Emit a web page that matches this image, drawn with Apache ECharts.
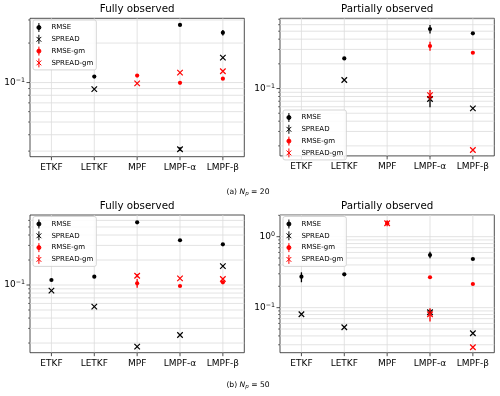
<!DOCTYPE html>
<html><head><meta charset="utf-8">
<script src="https://cdn.jsdelivr.net/npm/echarts@6/dist/echarts.min.js"></script>
<style>html,body{margin:0;padding:0;background:#fff}#c{width:500px;height:396px}</style>
</head><body><div id="c"></div>
<script>
const categories = ['ETKF', 'LETKF', 'MPF', 'LMPF-α', 'LMPF-β'];
const seriesNames = ['RMSE', 'SPREAD', 'RMSE-gm', 'SPREAD-gm'];

// (a) Np = 20, fully observed
const rmse20F      = [null, 0.111, null, 0.275, 0.240];
const spread20F    = [null, 0.089, null, 0.031, 0.155];
const rmseGm20F    = [null, null, 0.113, 0.0996, 0.107];
const spreadGm20F  = [null, null, 0.0986, 0.119, 0.122];
const errRmse20F     = [null, null, null, null, [0.228, 0.252]];
const errSpread20F   = [null, null, null, [0.0300, 0.0322], null];
const errRmseGm20F   = [null, null, null, null, null];
const errSpreadGm20F = [null, null, null, null, null];

// (a) Np = 20, partially observed
const rmse20P      = [null, 0.233, null, 0.532, 0.471];
const spread20P    = [null, 0.127, null, 0.0745, 0.0574];
const rmseGm20P    = [null, null, null, 0.330, 0.273];
const spreadGm20P  = [null, null, null, 0.0833, 0.0178];
const errRmse20P     = [null, null, null, [0.47, 0.595], null];
const errSpread20P   = [null, null, null, [0.059, 0.085], null];
const errRmseGm20P   = [null, null, null, [0.289, 0.372], null];
const errSpreadGm20P = [null, null, null, [0.0724, 0.0958], null];

// (b) Np = 50, fully observed
const rmse50F      = [0.1149, 0.1259, 0.569, 0.346, 0.309];
const spread50F    = [0.0854, 0.0548, 0.0181, 0.0250, 0.169];
const rmseGm50F    = [null, null, 0.1048, 0.0973, 0.1078];
const spreadGm50F  = [null, null, 0.1294, 0.1204, 0.118];
const errRmse50F     = [null, null, null, null, null];
const errSpread50F   = [null, null, null, null, null];
const errRmseGm50F   = [null, null, [0.0928, 0.118], null, [0.104, 0.112]];
const errSpreadGm50F = [null, null, [0.124, 0.136], null, null];

// (b) Np = 50, partially observed
const rmse50P      = [0.273, 0.295, null, 0.552, 0.485];
const spread50P    = [0.0807, 0.0530, null, 0.0861, 0.0436];
const rmseGm50P    = [null, null, 1.55, 0.268, 0.2155];
const spreadGm50P  = [null, null, 1.545, 0.0807, 0.0277];
const errRmse50P     = [[0.228, 0.315], null, null, [0.496, 0.615], null];
const errSpread50P   = [null, null, null, [0.079, 0.094], null];
const errRmseGm50P   = [null, null, null, null, null];
const errSpreadGm50P = [null, null, [1.40, 1.70], [0.0637, 0.0981], null];

const panelTitles = ['Fully observed', 'Partially observed', 'Fully observed', 'Partially observed'];
const captions = ['(a) {i|N}{sub|p} = 20', '(b) {i|N}{sub|p} = 50'];

const panels = [
  { grid: {left: 30, top: 18.3, width: 214.3, height: 138.4}, yRange: [0.0272, 0.309],
    vals: [rmse20F, spread20F, rmseGm20F, spreadGm20F], errs: [errRmse20F, errSpread20F, errRmseGm20F, errSpreadGm20F],
    legend: {left: 33, top: 20} },
  { grid: {left: 280, top: 18.3, width: 214.3, height: 137.6}, yRange: [0.0151, 0.718],
    vals: [rmse20P, spread20P, rmseGm20P, spreadGm20P], errs: [errRmse20P, errSpread20P, errRmseGm20P, errSpreadGm20P],
    legend: {left: 283, top: 110} },
  { grid: {left: 30, top: 215, width: 214.3, height: 137.7}, yRange: [0.0153, 0.697],
    vals: [rmse50F, spread50F, rmseGm50F, spreadGm50F], errs: [errRmse50F, errSpread50F, errRmseGm50F, errSpreadGm50F],
    legend: {left: 33, top: 216.5} },
  { grid: {left: 280, top: 215, width: 214.3, height: 137.7}, yRange: [0.0232, 2.02],
    vals: [rmse50P, spread50P, rmseGm50P, spreadGm50P], errs: [errRmse50P, errSpread50P, errRmseGm50P, errSpreadGm50P],
    legend: {left: 283, top: 216.5} }
];

const FONT = 'DejaVu Sans';
const colors = ['#000000', '#000000', '#ff0000', '#ff0000'];
const xPath = 'path://M0,0L10,10M10,0L0,10';
const dotLegend = 'path://M2,0L2,9M2,2.5A2,2,0,1,1,2,6.5A2,2,0,1,1,2,2.5Z';
const xLegend = 'path://M3,0L3,9M0.6,2.1L5.4,6.9M5.4,2.1L0.6,6.9';

function gridLineValues(range) {
  const out = [];
  const e0 = Math.floor(Math.log10(range[0])), e1 = Math.ceil(Math.log10(range[1]));
  for (let e = e0; e <= e1; e++) {
    for (let k = 1; k <= 9; k++) {
      const v = k * Math.pow(10, e);
      if (v > range[0] * 1.0001 && v < range[1] * 0.9999) out.push([0, v, k === 1 ? 1 : 0]);
    }
  }
  return out;
}

function renderGridLines(params, api) {
  const cs = params.coordSys;
  const kind = api.value(2);
  const gridColor = '#dcdcdc';
  if (kind === 2) {
    const x = api.coord([api.value(0), api.value(1)])[0];
    return {type: 'group', children: [
      {type: 'line', shape: {x1: x, y1: cs.y, x2: x, y2: cs.y + cs.height}, style: {stroke: gridColor, lineWidth: 0.8}},
      {type: 'line', shape: {x1: x, y1: cs.y + cs.height, x2: x, y2: cs.y + cs.height + 3.5}, style: {stroke: '#222', lineWidth: 0.8}}
    ]};
  }
  const y = api.coord([0, api.value(1)])[1];
  const tl = kind === 1 ? 3.5 : 2;
  return {type: 'group', children: [
    {type: 'line', shape: {x1: cs.x, y1: y, x2: cs.x + cs.width, y2: y}, style: {stroke: gridColor, lineWidth: 0.8}},
    {type: 'line', shape: {x1: cs.x - tl, y1: y, x2: cs.x, y2: y}, style: {stroke: '#222', lineWidth: kind === 1 ? 0.8 : 0.6}}
  ]};
}

function renderErr(params, api) {
  const p1 = api.coord([api.value(0), api.value(1)]);
  const p2 = api.coord([api.value(0), api.value(2)]);
  return {type: 'line', shape: {x1: p1[0], y1: p1[1], x2: p2[0], y2: p2[1]},
          style: {stroke: api.visual('color'), lineWidth: 1.3}};
}

function yFormatter(v) {
  const e = Math.log10(v);
  const r = Math.round(e);
  if (Math.abs(e - r) > 1e-6) return '';
  return '10{s|' + (r < 0 ? '\u2212' + (-r) : String(r)) + '}';
}

const grids = [], xAxes = [], yAxes = [], series = [], legends = [], graphics = [];
panels.forEach((p, gi) => {
  grids.push(Object.assign({show: true, borderColor: '#222', borderWidth: 0.8, backgroundColor: 'transparent', containLabel: false}, p.grid));
  xAxes.push({type: 'category', gridIndex: gi, data: categories, boundaryGap: true,
    axisLine: {show: false}, axisTick: {show: false}, splitLine: {show: false},
    axisLabel: {fontFamily: FONT, fontSize: 9, color: '#000', margin: 6, interval: 0}});
  yAxes.push({type: 'log', logBase: 10, gridIndex: gi, min: p.yRange[0], max: p.yRange[1],
    axisLine: {show: false}, axisTick: {show: false}, splitLine: {show: false},
    axisLabel: {fontFamily: FONT, fontSize: 9, color: '#000', margin: 5, formatter: yFormatter,
      rich: {s: {fontFamily: FONT, fontSize: 6.3, color: '#000', padding: [0, 0, 5, 0]}}}});
  const gdata = gridLineValues(p.yRange).concat(categories.map((c, i) => [i, p.yRange[0] * 1.5, 2]));
  series.push({type: 'custom', name: 'grid' + gi, xAxisIndex: gi, yAxisIndex: gi, silent: true, z: 1,
    encode: {x: 0, y: 1}, data: gdata, renderItem: renderGridLines, clip: false});
  seriesNames.forEach((nm, k) => {
    const edata = [];
    p.errs[k].forEach((e, i) => { if (e) edata.push([i, e[0], e[1]]); });
    series.push({type: 'custom', name: 'err-' + nm + gi, xAxisIndex: gi, yAxisIndex: gi, silent: true, z: 2 + 2 * k,
      itemStyle: {color: colors[k]}, encode: {x: 0, y: [1, 2]}, data: edata, renderItem: renderErr});
    const sdata = [];
    p.vals[k].forEach((v, i) => { if (v != null) sdata.push([i, v]); });
    const isX = (k % 2 === 1);
    series.push({type: 'scatter', name: nm, xAxisIndex: gi, yAxisIndex: gi, z: 3 + 2 * k, silent: true,
      symbol: isX ? xPath : 'circle', symbolSize: isX ? 5.5 : 4.2,
      itemStyle: isX ? {color: colors[k], borderColor: colors[k], borderWidth: 1.2, opacity: 1}
                     : {color: colors[k], opacity: 1},
      data: sdata});
  });
  legends.push({left: p.legend.left, top: p.legend.top, orient: 'vertical', selectedMode: false,
    padding: [2.5, 3, 2, 3], itemWidth: 15, itemHeight: 9, itemGap: 1.8,
    backgroundColor: 'rgba(255,255,255,0.85)', borderColor: '#cccccc', borderWidth: 0.8, borderRadius: 2,
    textStyle: {fontFamily: FONT, fontSize: 7, color: '#000'},
    data: seriesNames.map((nm, k) => ({name: nm, icon: (k % 2 === 1) ? xLegend : dotLegend,
      itemStyle: {color: colors[k], borderColor: colors[k], borderWidth: 1}}))});
  graphics.push({type: 'text', x: p.grid.left + p.grid.width / 2, y: p.grid.top - 9,
    style: {text: panelTitles[gi], font: '10.3px "DejaVu Sans"', fill: '#000', textAlign: 'center', textVerticalAlign: 'middle'}});
});

[192, 385].forEach((y, ci) => {
  graphics.push({type: 'text', x: 248, y: y,
    style: {text: captions[ci], fontFamily: FONT, fontSize: 7.6, fill: '#000', align: 'center', verticalAlign: 'middle',
      rich: {i: {fontFamily: FONT, fontSize: 7.6, fontStyle: 'italic'},
             sub: {fontFamily: FONT, fontSize: 5.5, fontStyle: 'italic', padding: [4, 0, 0, 0]}}}});
});

const chart = echarts.init(document.getElementById('c'), null, {renderer: 'canvas'});
chart.setOption({
  animation: false,
  backgroundColor: '#ffffff',
  grid: grids, xAxis: xAxes, yAxis: yAxes, legend: legends, series: series, graphic: graphics
});
</script>
</body></html>
